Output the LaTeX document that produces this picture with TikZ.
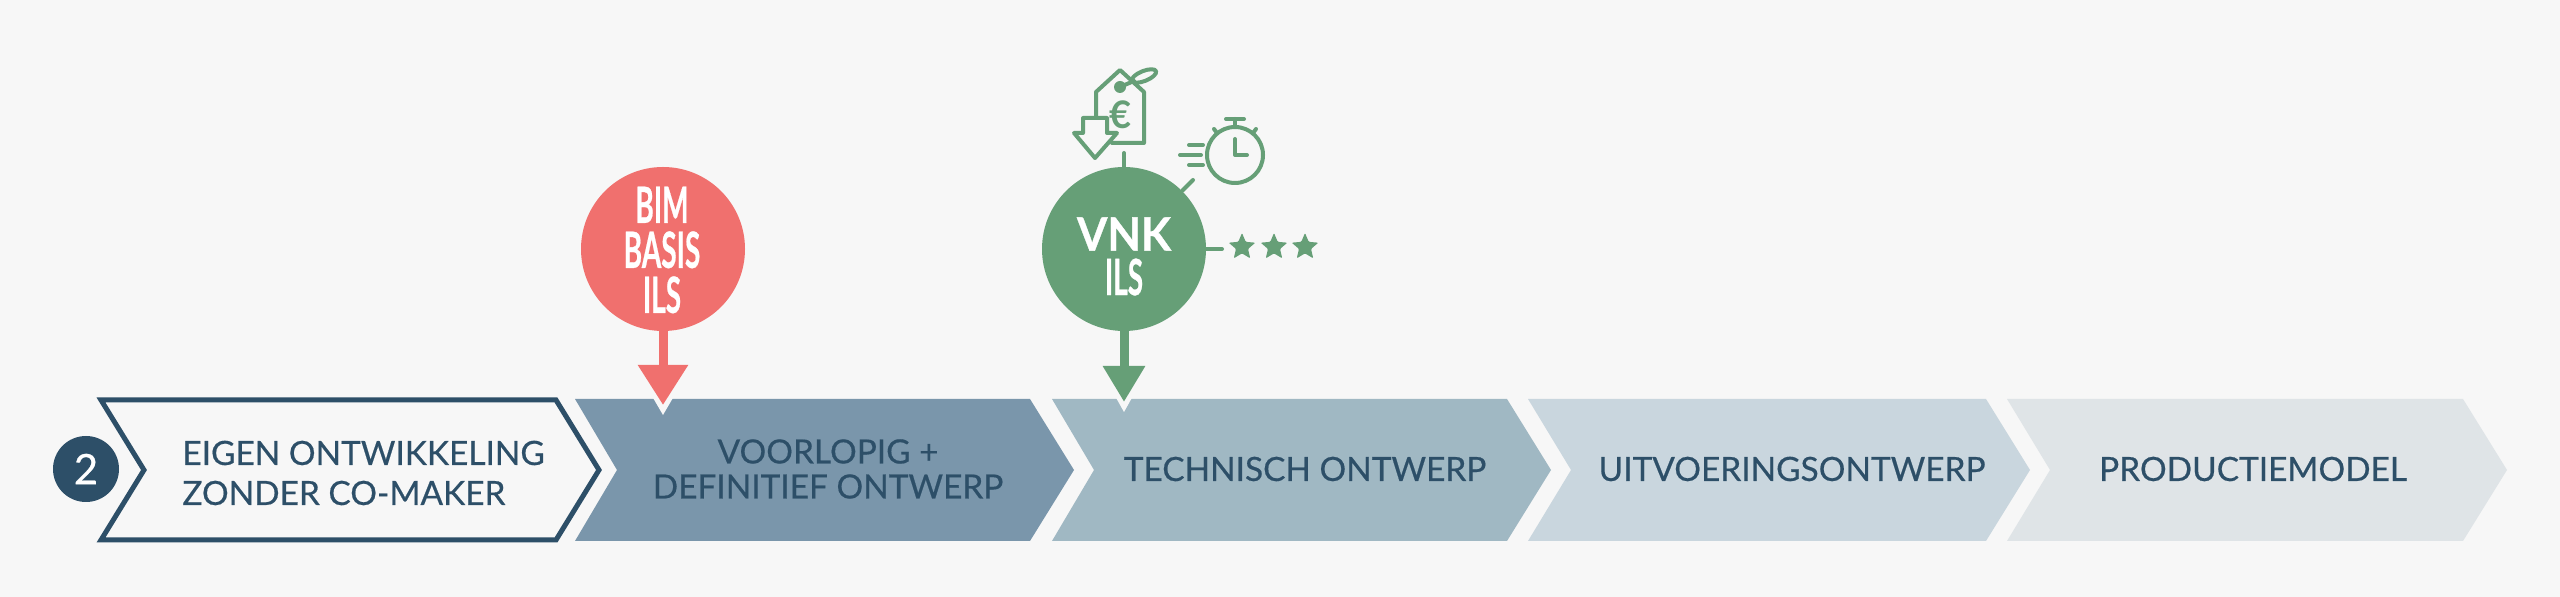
\documentclass[tikz,border=0pt]{standalone}
\usepackage{fontspec}
\setmainfont{Lato}
\usetikzlibrary{arrows.meta,shapes.geometric}
\definecolor{pagebg}{HTML}{F7F7F7}
\definecolor{navy}{HTML}{2D4F68}
\definecolor{phaseA}{HTML}{7A96AB}
\definecolor{phaseB}{HTML}{A0B8C3}
\definecolor{phaseC}{HTML}{C9D6DE}
\definecolor{phaseD}{HTML}{DFE4E7}
\definecolor{bimred}{HTML}{F0706E}
\definecolor{vnkgreen}{HTML}{669F77}
\newcommand{\slimtxt}[1]{\scalebox{0.56}[1]{#1}}
\newfontfamily\phasefont[FakeBold=0.5]{Lato}
\newfontfamily\badgefont[FakeBold=0.7]{Lato Bold}
\tikzset{
  phaselabel/.style={text=navy,font=\phasefont\fontsize{16.7}{20}\selectfont,align=center,inner sep=0pt},
  badge/.style={circle,fill=#1,minimum size=82pt,inner sep=0pt},
  badgelabel/.style={text=white,align=center,inner sep=0pt,font=\badgefont\fontsize{25}{21.5}\selectfont},
  dropline/.style={draw=#1,line width=4.5pt},
  icon/.style={draw=vnkgreen,line width=2pt,line join=round,line cap=round},
  tick/.style={draw=vnkgreen,line width=2pt,line cap=round},
  staricon/.style={star,star points=5,star point ratio=2.2,fill=vnkgreen,minimum size=14pt,inner sep=0pt,rounded corners=0.5pt},
}
\begin{document}
\begin{tikzpicture}[x=0.5pt,y=0.5pt,yscale=-1,xscale=1]
  \useasboundingbox (0,0) rectangle (2560,597);
  \fill[pagebg] (0,0) rectangle (2560,597);
  % phases
  \draw [draw=navy,fill=pagebg,line width=2.5pt,line join=miter] (101,400) -- (556,400) -- (599,470) -- (556,540) -- (101,540) -- (144,470) -- cycle ;
  \fill [phaseA] (575,399) -- (1030,399) -- (1074,470) -- (1030,541) -- (575,541) -- (617,470) -- cycle ;
  \fill [phaseB] (1052,399) -- (1507,399) -- (1551,470) -- (1507,541) -- (1052,541) -- (1094,470) -- cycle ;
  \fill [phaseC] (1528,399) -- (1986,399) -- (2030,470) -- (1986,541) -- (1528,541) -- (1571,470) -- cycle ;
  \fill [phaseD] (2007,399) -- (2463,399) -- (2507,470) -- (2463,541) -- (2007,541) -- (2050,470) -- cycle ;
  \node [circle,fill=navy,minimum size=33pt,inner sep=0pt,text=white,font=\phasefont\fontsize{21}{21}\selectfont] (stepnr) at (86,469) {2};
  \node [phaselabel,align=left,anchor=west] (eigen) at (182,473) {EIGEN ONTWIKKELING\\ZONDER CO-MAKER};
  \node [phaselabel,font=\phasefont\fontsize{16.7}{17.5}\selectfont] (voorlopig) at (828,469) {VOORLOPIG +\\DEFINITIEF ONTWERP};
  \node [phaselabel] (technisch) at (1305,469) {TECHNISCH ONTWERP};
  \node [phaselabel] (uitvoering) at (1792,469) {UITVOERINGSONTWERP};
  \node [phaselabel] (productie) at (2253,469) {PRODUCTIEMODEL};
  % badges
  \fill [pagebg] (663,415) -- (631,360) -- (695,360) -- cycle ;
  \fill [pagebg] (1124,412) -- (1096,362) -- (1152,362) -- cycle ;
  \coordinate (bimtip) at (663,405);
  \coordinate (vnktip) at (1124,402);
  \node [badge=bimred] (bim) at (663,249) {};
  \node [badge=vnkgreen] (vnk) at (1124,249) {};
  \node [badgelabel] (bimlabel) at (662,250) {\slimtxt{BIM}\\[1pt]\slimtxt{BASIS}\\[1pt]\slimtxt{ILS}};
  \node [badgelabel,font=\badgefont\fontsize{23}{23}\selectfont] (vnklabel) at (1124,234) {\scalebox{0.95}[1]{VNK}};
  \node [badgelabel] (ilslabel) at (1124,277) {\slimtxt{ILS}};
  \draw [dropline=bimred,-{Triangle[width=24pt,length=20pt]}] (bim.south) -- (bimtip) ;
  \draw [dropline=vnkgreen,-{Triangle[width=20pt,length=18pt]}] (vnk.south) -- (vnktip) ;
  % ticks to the icons
  \coordinate (tagend) at (1124,153);
  \coordinate (clockend) at (1193,180);
  \coordinate (starend) at (1222,249);
  \draw [tick] (vnk.north) -- (tagend) ;
  \draw [tick] (vnk.45) -- (clockend) ;
  \draw [tick] (vnk.east) -- (starend) ;
  % price tag
  \draw [icon] (1096,117) -- (1096,92) -- (1120,70) -- (1144,92) -- (1144,143) -- (1112,143) ;
  \fill [vnkgreen] (1120,87) circle (3pt) ;
  \draw [icon] (1120,87) -- (1134,81) ;
  \draw [icon,rotate around={-22:(1144,76)}] (1144,76) ellipse (6.5pt and 2.5pt) ;
  \node [text=vnkgreen,font=\bfseries\fontsize{19}{19}\selectfont,inner sep=0pt] (euro) at (1121,115) {€};
  \draw [icon,fill=pagebg] (1083,118) -- (1107,118) -- (1107,133) -- (1117,133) -- (1095,158) -- (1074,133) -- (1083,133) -- cycle ;
  % stopwatch
  \draw [icon] (1235,155) circle (14pt) ;
  \draw [icon] (1235,127) -- (1235,119) (1226,119) -- (1244,119) ;
  \draw [icon] (1214,129) -- (1217,133) (1256,129) -- (1253,133) ;
  \draw [icon] (1235,139) -- (1235,155) -- (1247,155) ;
  \draw [icon] (1189,145) -- (1203,145) (1180,155) -- (1201,155) (1189,165) -- (1203,165) ;
  % stars
  \node [staricon] (staronw) at (1242,247) {};
  \node [staricon] (startwo) at (1274,247) {};
  \node [staricon] (starthr) at (1305,247) {};
\end{tikzpicture}
\end{document}
